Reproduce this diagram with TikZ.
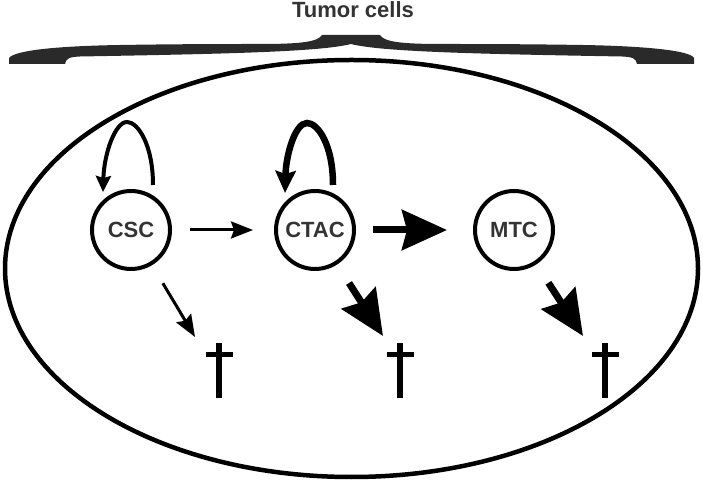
\documentclass[tikz,border=0pt]{standalone}
\usepackage{fontspec}
\setmainfont{Liberation Sans}
\usetikzlibrary{arrows.meta,calc}
\definecolor{txt}{HTML}{333333}
\definecolor{bracecol}{HTML}{2A2A2A}
\begin{document}
\begin{tikzpicture}[x=1pt,y=1pt,
  cell/.style={circle,draw=black,line width=4pt,minimum size=78pt,inner sep=0pt,
    font=\fontsize{22}{22}\selectfont\bfseries,text=txt},
  thinarr/.style={line width=3pt,-{Stealth[length=22pt,width=17pt,inset=3pt]}},
  thickarr/.style={line width=7pt,-{Stealth[length=45pt,width=40pt,inset=5pt]}},
  thinloop/.style={line width=4pt,-{Stealth[length=16pt,width=15pt,inset=2pt]}},
  thickloop/.style={line width=6.5pt,-{Stealth[length=22pt,width=20pt,inset=3pt]}},
  title/.style={font=\fontsize{22}{22}\selectfont\bfseries,text=txt,inner sep=0pt,anchor=base}
]
\useasboundingbox (0,0) rectangle (703,484);

% title and brace
\node[title] (title) at (353,466) {Tumor cells};
\fill[bracecol] (9,420) -- (65,420)
  .. controls (66,426) and (70,427) .. (80,427.5)
  .. controls (220,430) and (320,432) .. (351,440)
  .. controls (382,432) and (482,430) .. (622,427.5)
  .. controls (632,427) and (636,426) .. (637,420)
  -- (694,420) -- (694,426)
  .. controls (690,434) and (640,438) .. (583,439)
  .. controls (520,440) and (470,440) .. (442,440)
  .. controls (402,440) and (384,442) .. (380,449)
  -- (322,449)
  .. controls (318,442) and (300,440) .. (260,440)
  .. controls (232,440) and (182,440) .. (120,439)
  .. controls (60,438) and (15,434) .. (9,426) -- cycle;

% outer ellipse
\draw[line width=4.5pt] (351.5,215.5) ellipse [x radius=346.5, y radius=208.5];

% cells
\node[cell] (CSC) at (131,254) {CSC};
\node[cell] (CTAC) at (315,254) {CTAC};
\node[cell] (MTC) at (514,254) {MTC};

% self-renewal loops
\coordinate (l1s) at ($(CSC.center)+(22,45)$);
\coordinate (l1p) at ($(CSC.center)+(-4,108)$);
\coordinate (l1e) at ($(CSC.center)+(-28,38)$);
\draw[thinloop] (l1s) .. controls ($(l1s)+(0,40)$) and ($(l1p)+(11,0)$) .. (l1p)
  .. controls ($(l1p)+(-12,0)$) and ($(l1e)+(1,38)$) .. (l1e);

\coordinate (l2s) at ($(CTAC.center)+(18,45)$);
\coordinate (l2p) at ($(CTAC.center)+(-8,107)$);
\coordinate (l2e) at ($(CTAC.center)+(-30,37)$);
\draw[thickloop] (l2s) .. controls ($(l2s)+(0,40)$) and ($(l2p)+(11,0)$) .. (l2p)
  .. controls ($(l2p)+(-12,0)$) and ($(l2e)+(1,38)$) .. (l2e);

% differentiation arrows
\draw[thinarr,shorten <=18pt,shorten >=21pt] (CSC) -- (CTAC);
\draw[thickarr,shorten <=17pt,shorten >=26pt] (CTAC) -- (MTC);

% daggers
\foreach \n/\x in {1/219,2/400,3/605}{
  \coordinate (dag\n) at (\x,141);
  \fill (\x-3,86) rectangle (\x+3,141);
  \fill (\x-13.5,126.5) rectangle (\x+13.5,131.5);
}

% death arrows
\coordinate (t1) at ($(dag1)+(-24,6)$);
\coordinate (t2) at ($(dag2)+(-17,7)$);
\coordinate (t3) at ($(dag3)+(-22,7)$);
\draw[thinarr,shorten <=21pt] (CSC) -- (t1);
\draw[thickarr,shorten <=22pt] (CTAC) -- (t2);
\draw[thickarr,shorten <=22pt] (MTC) -- (t3);
\end{tikzpicture}
\end{document}
